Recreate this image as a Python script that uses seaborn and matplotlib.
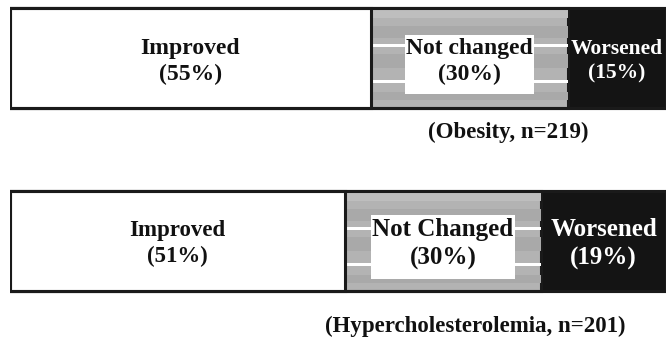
import matplotlib
matplotlib.use("Agg")
import matplotlib.pyplot as plt
import matplotlib.patches as mpatches
import numpy as np
import pandas as pd
import seaborn as sns

# Outcome shares per condition (percent)
conditions = ["Obesity", "Hypercholesterolemia"]
sample_sizes = [219, 201]
improved = [55, 51]
not_changed = [30, 30]
worsened = [15, 19]
improved_labels = ["Improved", "Improved"]
not_changed_labels = ["Not changed", "Not Changed"]
worsened_labels = ["Worsened", "Worsened"]

df = pd.DataFrame({
    "condition": conditions,
    "improved": improved,
    "not_changed": not_changed,
    "worsened": worsened,
})
df["cum_improved"] = df["improved"]
df["cum_not_changed"] = df["improved"] + df["not_changed"]
df["cum_total"] = df["cum_not_changed"] + df["worsened"]

sns.set_theme(style="white")
plt.rcParams["font.family"] = ["Liberation Serif", "DejaVu Serif"]

W, H = 666, 339
fig = plt.figure(figsize=(W / 100, H / 100), dpi=100)
ax = fig.add_axes([10 / W, 0, 656 / W, 1])

BAR_W = 0.548
EDGE = "#1a1a1a"
LW = 2.2

# stacked bars drawn back to front from cumulative totals
sns.barplot(data=df, x="cum_total", y="condition", orient="h", color="#141414",
            width=BAR_W, edgecolor=EDGE, linewidth=LW, saturation=1, ax=ax, zorder=1)
n_before = len(ax.patches)
sns.barplot(data=df, x="cum_not_changed", y="condition", orient="h", color="#b3b3b3",
            width=BAR_W, edgecolor=EDGE, linewidth=LW, saturation=1, ax=ax, zorder=1.1)
gray_patches = ax.patches[n_before:]
sns.barplot(data=df, x="cum_improved", y="condition", orient="h", color="white",
            width=BAR_W, edgecolor=EDGE, linewidth=LW, saturation=1, ax=ax, zorder=1.5)
# outline of the whole bar
sns.barplot(data=df, x="cum_total", y="condition", orient="h", fill=False,
            width=BAR_W, edgecolor=EDGE, linewidth=LW, ax=ax, zorder=3)

# horizontal banding inside the "not changed" segment
bands = [
    (0.00, 0.10, "#bebebe"),
    (0.18, 0.30, "#a9a9a9"),
    (0.36, 0.39, "#ffffff"),
    (0.46, 0.60, "#a9a9a9"),
    (0.72, 0.75, "#ffffff"),
    (0.84, 0.92, "#a9a9a9"),
]
for p in gray_patches:
    x0, y0 = p.get_x(), p.get_y()
    w, h = p.get_width(), p.get_height()
    for f0, f1, c in bands:
        r = mpatches.Rectangle((x0, y0 + f0 * h), w, (f1 - f0) * h,
                               facecolor=c, edgecolor="none", zorder=1.2)
        ax.add_patch(r)
        r.set_clip_path(p)

ax.set_xlim(0, 100)
ax.set_ylim(1.537, -0.3205)
ax.axis("off")

dy = 0.015
font_sizes = [(17, 17, 15.5), (16.5, 18, 18)]
nc_texts = []
for i in range(len(conditions)):
    fs_i, fs_n, fs_w = font_sizes[i]
    a, b, c = improved[i], not_changed[i], worsened[i]
    ax.text(a / 2, i + dy, f"{improved_labels[i]}\n({a}%)", ha="center", va="center",
            fontsize=fs_i, fontweight="bold", color="#111111", linespacing=1.3, zorder=4)
    t = ax.text(a + b / 2, i + dy, f"{not_changed_labels[i]}\n({b}%)", ha="center", va="center",
                fontsize=fs_n, fontweight="bold", color="#111111", linespacing=1.3, zorder=4)
    nc_texts.append(t)
    ax.text(a + b + c / 2, i + dy, f"{worsened_labels[i]}\n({c}%)", ha="center", va="center",
            fontsize=fs_w, fontweight="bold", color="white", linespacing=1.3, zorder=4)

# white panel behind the "not changed" labels, taller below than above
renderer = fig.canvas.get_renderer()
inv = ax.transData.inverted()
for t in nc_texts:
    bb = t.get_window_extent(renderer)
    (x0, y0), (x1, y1) = inv.transform([(bb.x0 - 1, bb.y0 - 9), (bb.x1 + 1, bb.y1 + 3)])
    ax.add_patch(mpatches.Rectangle((x0, min(y0, y1)), x1 - x0, abs(y1 - y0),
                                    facecolor="white", edgecolor="none", zorder=3.5))

caption_pos = [(76.0, 0.405), (70.9, 1.468)]
for i, (cx, cy) in enumerate(caption_pos):
    ax.text(cx, cy, f"({conditions[i]}, n={sample_sizes[i]})", ha="center", va="center",
            fontsize=16.5, fontweight="bold", color="#111111")

fig.savefig("out.png", dpi=100)
